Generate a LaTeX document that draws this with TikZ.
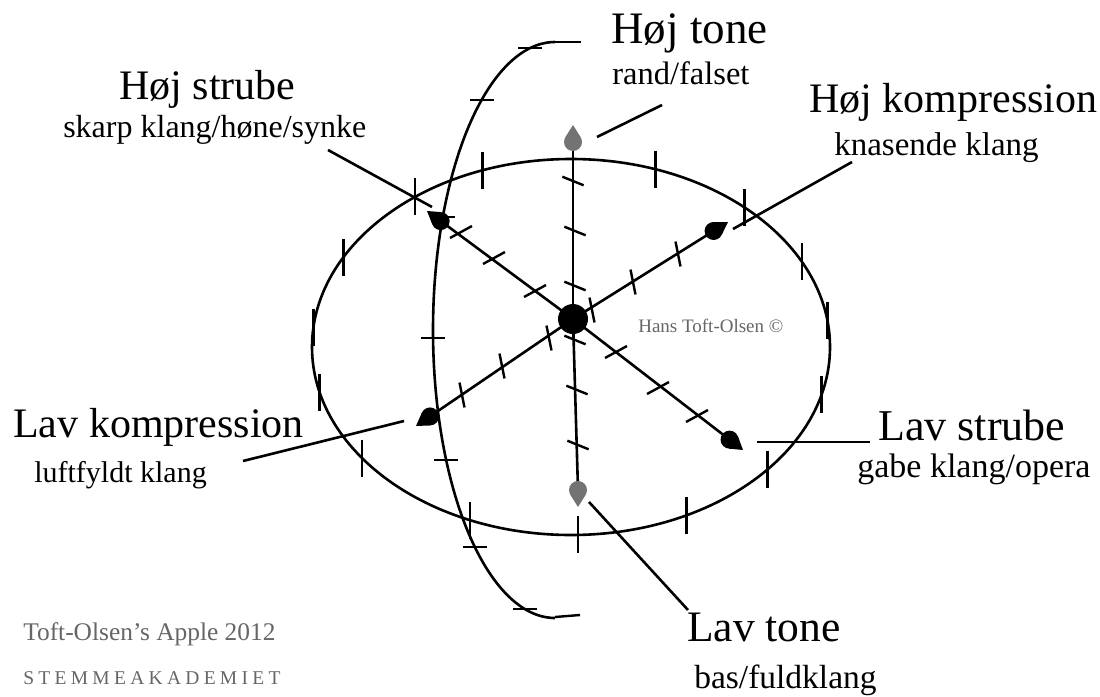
\documentclass[tikz,border=0pt]{standalone}
\usepackage{fontspec}
\setmainfont{Liberation Serif}
\usetikzlibrary{calc}
\newcommand\dropat[3]{%
  \fill[#3] ($(#1)+({#2}:17)$) circle[radius=9];
  \fill[#3] (#1) -- ($(#1)+({#2+32}:14.4)$) -- ($(#1)+({#2-32}:14.4)$) -- cycle;}
\begin{document}
\begin{tikzpicture}[x=1pt,y=-1pt, line width=2.6pt,
  head/.style={font=\fontsize{42}{48}\selectfont, anchor=base west, inner sep=0pt},
  sub/.style={font=\fontsize{32}{36}\selectfont, anchor=base west, inner sep=0pt},
  foot/.style={text=black!60, anchor=base west, inner sep=0pt},
  tk/.style={line width=2.4pt},
  lead/.style={line width=2.6pt}]
\useasboundingbox (0,0) rectangle (1100,696);
\fill[white] (0,0) rectangle (1100,696);

% main ellipse
\coordinate (E) at (571,347);
\draw (E) ellipse [x radius=259, y radius=188];
\foreach \t in {250,289,233,312,208.5,333,186,352,166,14.7,143.7,40.6,113,63.5,88.5}
  \draw[tk] ($(E)+(\t:259 and 188)+(0,-18.5)$) -- ($(E)+(\t:259 and 188)+(0,18.5)$);

% side meridian arc
\draw plot[domain=90:270, samples=90, smooth] ({555+122*cos(\x)},{330+288*sin(\x)});
\coordinate (AT) at (555,42);
\coordinate (ATe) at (581,42);
\coordinate (AB) at (555,617);
\coordinate (ABe) at (580,615);
\draw[tk] (AT) -- (ATe);
\draw[tk] (AB) -- (ABe);
\foreach \t in {258.2,233,203.1,178.4,153.2,131.1,104.3}
  \draw[tk] ({555+122*cos(\t)-12},{330+288*sin(\t)}) -- ({555+122*cos(\t)+12},{330+288*sin(\t)});

% axes
\coordinate (C) at (573,319);
\coordinate (V1) at (573,142);
\coordinate (V2) at (578,490);
\coordinate (NWt) at (427,211);
\coordinate (SEt) at (743,450);
\coordinate (SWt) at (416,426);
\coordinate (NEt) at (728,222);
\coordinate (NWb) at (440.7,221);
\coordinate (SEb) at (729.5,439.6);
\coordinate (SWb) at (430,416.4);
\coordinate (NEb) at (713.6,231);
\draw (C) -- (V1);
\draw (C) -- (V2);
\draw (C) -- (NWb);
\draw (C) -- (SEb);
\draw (C) -- (SWb);
\draw (C) -- (NEb);

% axis ticks
\foreach \px/\py in {573/181,575/231,575/286,575/340,577/390,578/445}
  \draw[tk] ($(\px,\py)+(22:11.5)$) -- ($(\px,\py)+(202:11.5)$);
\foreach \px/\py in {461/232,494/258,535/291,616/352,658/388,697/416}
  \draw[tk] ($(\px,\py)+(-28.6:12.5)$) -- ($(\px,\py)+(151.4:12.5)$);
\foreach \px/\py in {462/395,502/366,549/338,592/310,633/282,678/254}
  \draw[tk] ($(\px,\py)+(78.7:12.7)$) -- ($(\px,\py)+(258.7:12.7)$);

% arrowheads
\coordinate (VTt) at (573,125);
\coordinate (VBt) at (578,507);
\dropat{VTt}{90}{black!55}
\dropat{VBt}{-90}{black!55}
\dropat{NWt}{36.5}{black}
\dropat{SEt}{217.6}{black}
\dropat{SWt}{-34.3}{black}
\dropat{NEt}{148}{black}

% centre dot
\fill (C) circle[radius=15];

% leader lines
\coordinate (ht1) at (597,137); \coordinate (ht2) at (662,105);
\coordinate (hs1) at (328,150); \coordinate (hs2) at (432,207);
\coordinate (hk1) at (733,229); \coordinate (hk2) at (852,162);
\coordinate (lk1) at (404,421); \coordinate (lk2) at (243,461);
\coordinate (ls1) at (757,442); \coordinate (ls2) at (870,442);
\coordinate (lt1) at (589,502); \coordinate (lt2) at (688,610);
\draw[lead] (ht1) -- (ht2);
\draw[lead] (hs1) -- (hs2);
\draw[lead] (hk1) -- (hk2);
\draw[lead] (lk1) -- (lk2);
\draw[lead] (ls1) -- (ls2);
\draw[lead] (lt1) -- (lt2);

% labels
\node[head, font=\fontsize{45}{50}\selectfont] (hojtone) at (610,43) {Høj tone};
\node[sub, font=\fontsize{32.5}{36}\selectfont] (rand) at (611,84) {rand/falset};
\node[head] (hojstrube) at (118,99) {Høj strube};
\node[sub, font=\fontsize{32}{36}\selectfont] (skarp) at (62,137) {skarp klang/høne/synke};
\node[head] (hojkomp) at (808,112) {Høj kompression};
\node[sub, font=\fontsize{33}{36}\selectfont] (knas) at (833,155) {knasende klang};
\node[head] (lavkomp) at (12,437) {Lav kompression};
\node[sub, font=\fontsize{30}{36}\selectfont] (luft) at (33,482) {luftfyldt klang};
\node[head, font=\fontsize{44}{50}\selectfont] (lavstrube) at (877,440) {Lav strube};
\node[sub, font=\fontsize{34}{38}\selectfont] (gabe) at (856,477) {gabe klang/opera};
\node[head, font=\fontsize{43.5}{50}\selectfont] (lavtone) at (686,641) {Lav tone};
\node[sub, font=\fontsize{33.5}{38}\selectfont] (bas) at (693,688) {bas/fuldklang};
\node[foot, font=\fontsize{19}{22}\selectfont] (hans) at (637,332) {Hans Toft-Olsen ©};
\node[foot, font=\fontsize{25.4}{30}\selectfont] (apple) at (22,640) {Toft-Olsen’s Apple 2012};
\node[foot, font=\fontsize{19.5}{22}\selectfont\addfontfeature{LetterSpace=22}] (stemme) at (22,684) {STEMMEAKADEMIET};
\end{tikzpicture}
\end{document}
